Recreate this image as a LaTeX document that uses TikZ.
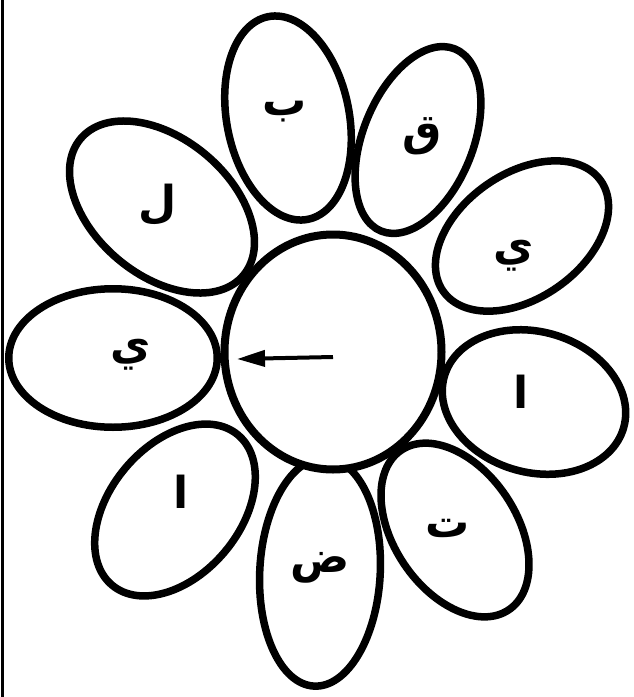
\documentclass[tikz,border=0pt]{standalone}
\usepackage{fontspec}
\newfontfamily\arabicfont[Script=Arabic]{DejaVu Sans}
\TeXXeTstate=1
\usetikzlibrary{shapes.geometric,arrows.meta}
\begin{document}
\begin{tikzpicture}[x=1pt,y=-1pt,
  petal/.style={ellipse,draw=black,fill=white,line width=7.5pt,inner sep=0pt},
  hub/.style={ellipse,draw=black,fill=white,line width=8pt,inner sep=0pt,minimum width=217pt,minimum height=235pt},
  letter/.style={font=\arabicfont\bfseries\fontsize{44}{48}\selectfont,inner sep=0pt},
  pointer/.style={line width=4pt,-{Triangle[length=28pt,width=16pt]}},
  frame/.style={line width=3pt}]
\useasboundingbox (0,0) rectangle (634,697);
\fill[white] (0,0) rectangle (634,697);
\coordinate (ftop) at (2.5,0);
\coordinate (fbot) at (2.5,697);
\draw[frame] (ftop) -- (fbot);
% petals
\node[petal,minimum width=206.5pt,minimum height=122.5pt,rotate=101] (pb) at (288,118) {};
\node[petal,minimum width=196.5pt,minimum height=110pt,rotate=68] (pq) at (418,140) {};
\node[petal,minimum width=192.5pt,minimum height=124.5pt,rotate=35] (pyr) at (522,236) {};
\node[petal,minimum width=186.5pt,minimum height=140.5pt,rotate=-16] (par) at (534,402) {};
\node[petal,minimum width=192.5pt,minimum height=122.5pt,rotate=-56] (pt) at (455,530) {};
\node[petal,minimum width=228.5pt,minimum height=120.5pt,rotate=-93] (pd) at (320,572) {};
\node[petal,minimum width=196pt,minimum height=130pt,rotate=-130] (pal) at (175,510) {};
\node[petal,minimum width=208.5pt,minimum height=138.5pt,rotate=180] (pyl) at (113,358) {};
\node[petal,minimum width=212.5pt,minimum height=136.5pt,rotate=140] (pl) at (162,207) {};
% centre
\node[hub] (c) at (333,352) {};
\coordinate (atail) at (333,357);
\coordinate (ahead) at (237,359);
\draw[pointer] (atail) -- (ahead);
% letters
\node[letter] (lb) at (285,112) {\beginR ب\endR};
\node[letter] (lq) at (422,136) {\beginR ق\endR};
\node[letter] (lyr) at (514,256) {\beginR ي\endR};
\node[letter] (lar) at (521,392) {\beginR ا\endR};
\node[letter] (lt) at (448,528) {\beginR ت\endR};
\node[letter] (ld) at (320,568) {\beginR ض\endR};
\node[letter] (lal) at (181,492) {\beginR ا\endR};
\node[letter] (lyl) at (131,355) {\beginR ي\endR};
\node[letter] (ll) at (158,205) {\beginR ل\endR};
\end{tikzpicture}
\end{document}
